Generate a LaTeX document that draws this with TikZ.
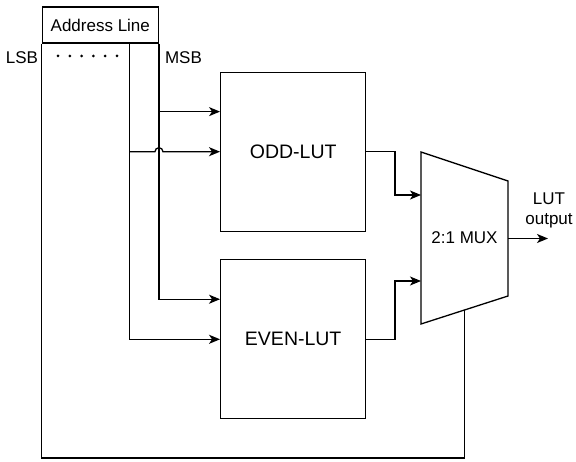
\documentclass[tikz,border=0pt]{standalone}
\usepackage{fontspec}
\setmainfont{Liberation Sans}
\usetikzlibrary{arrows.meta,calc}

\tikzset{
  lutbox/.style={draw, minimum width=145pt, minimum height=159pt, font=\fontsize{19.5}{22}\selectfont},
  lbl/.style={font=\fontsize{17}{20}\selectfont},
  wire/.style={-{Stealth[length=11pt,width=9pt,inset=3pt]}}
}

\begin{document}
\begin{tikzpicture}[x=1pt,y=-1pt,line width=1.3pt]
\useasboundingbox (0,0) rectangle (576,462);

\node[draw, lbl, minimum width=116pt, minimum height=36pt, inner sep=0pt] (addr) at (100.3,25) {Address Line};
\node[lbl] (lsb) at (22,58) {LSB};
\node[lbl] (msb) at (183.5,58) {MSB};
\foreach \i in {0,...,5} \fill (58+\i*11.8,56) circle (1.5pt);

\node[lutbox] (odd) at (293.2,151.7) {ODD-LUT};
\node[lutbox] (even) at (293.2,339.3) {EVEN-LUT};

\coordinate (m1) at (421,152);
\coordinate (m2) at (508,181);
\coordinate (m3) at (508,296);
\coordinate (m4) at (421,324);
\draw (m1) -- (m2) -- (m3) -- (m4) -- cycle;
\node[lbl] (mux) at (464.5,238) {2:1 MUX};

\coordinate (tapL) at (129.5,43);
\coordinate (base) at (0,458);
\coordinate (oddA) at ($(odd.north west)!0.25!(odd.south west)$);
\coordinate (evenA) at ($(even.north west)!0.25!(even.south west)$);
\coordinate (muxA) at ($(m1)!0.25!(m4)$);
\coordinate (muxB) at ($(m1)!0.75!(m4)$);
\coordinate (muxO) at ($(m2)!0.5!(m3)$);
\coordinate (muxS) at ($(m3)!0.5!(m4)$);
\coordinate (lutout) at (548,238.5);

\draw[wire] (addr.south east) |- (evenA);
\draw[wire] (tapL) |- (even.west);
\draw[wire] (addr.south east |- oddA) -- (oddA);
\draw[wire] (tapL |- odd.west) -- ([xshift=-4pt]addr.south east |- odd.west) arc[start angle=180,end angle=0,radius=4pt] -- (odd.west);

\draw (addr.south west) -- (addr.south west |- base) -| (muxS);

\draw[wire] (odd.east) -- ++(28.5,0) |- (muxA);
\draw[wire] (even.east) -- ++(28.5,0) |- (muxB);
\draw[wire] (muxO) -- (lutout);
\node[lbl, align=center] (outlbl) at (549,210) {LUT\\output};

\end{tikzpicture}
\end{document}
